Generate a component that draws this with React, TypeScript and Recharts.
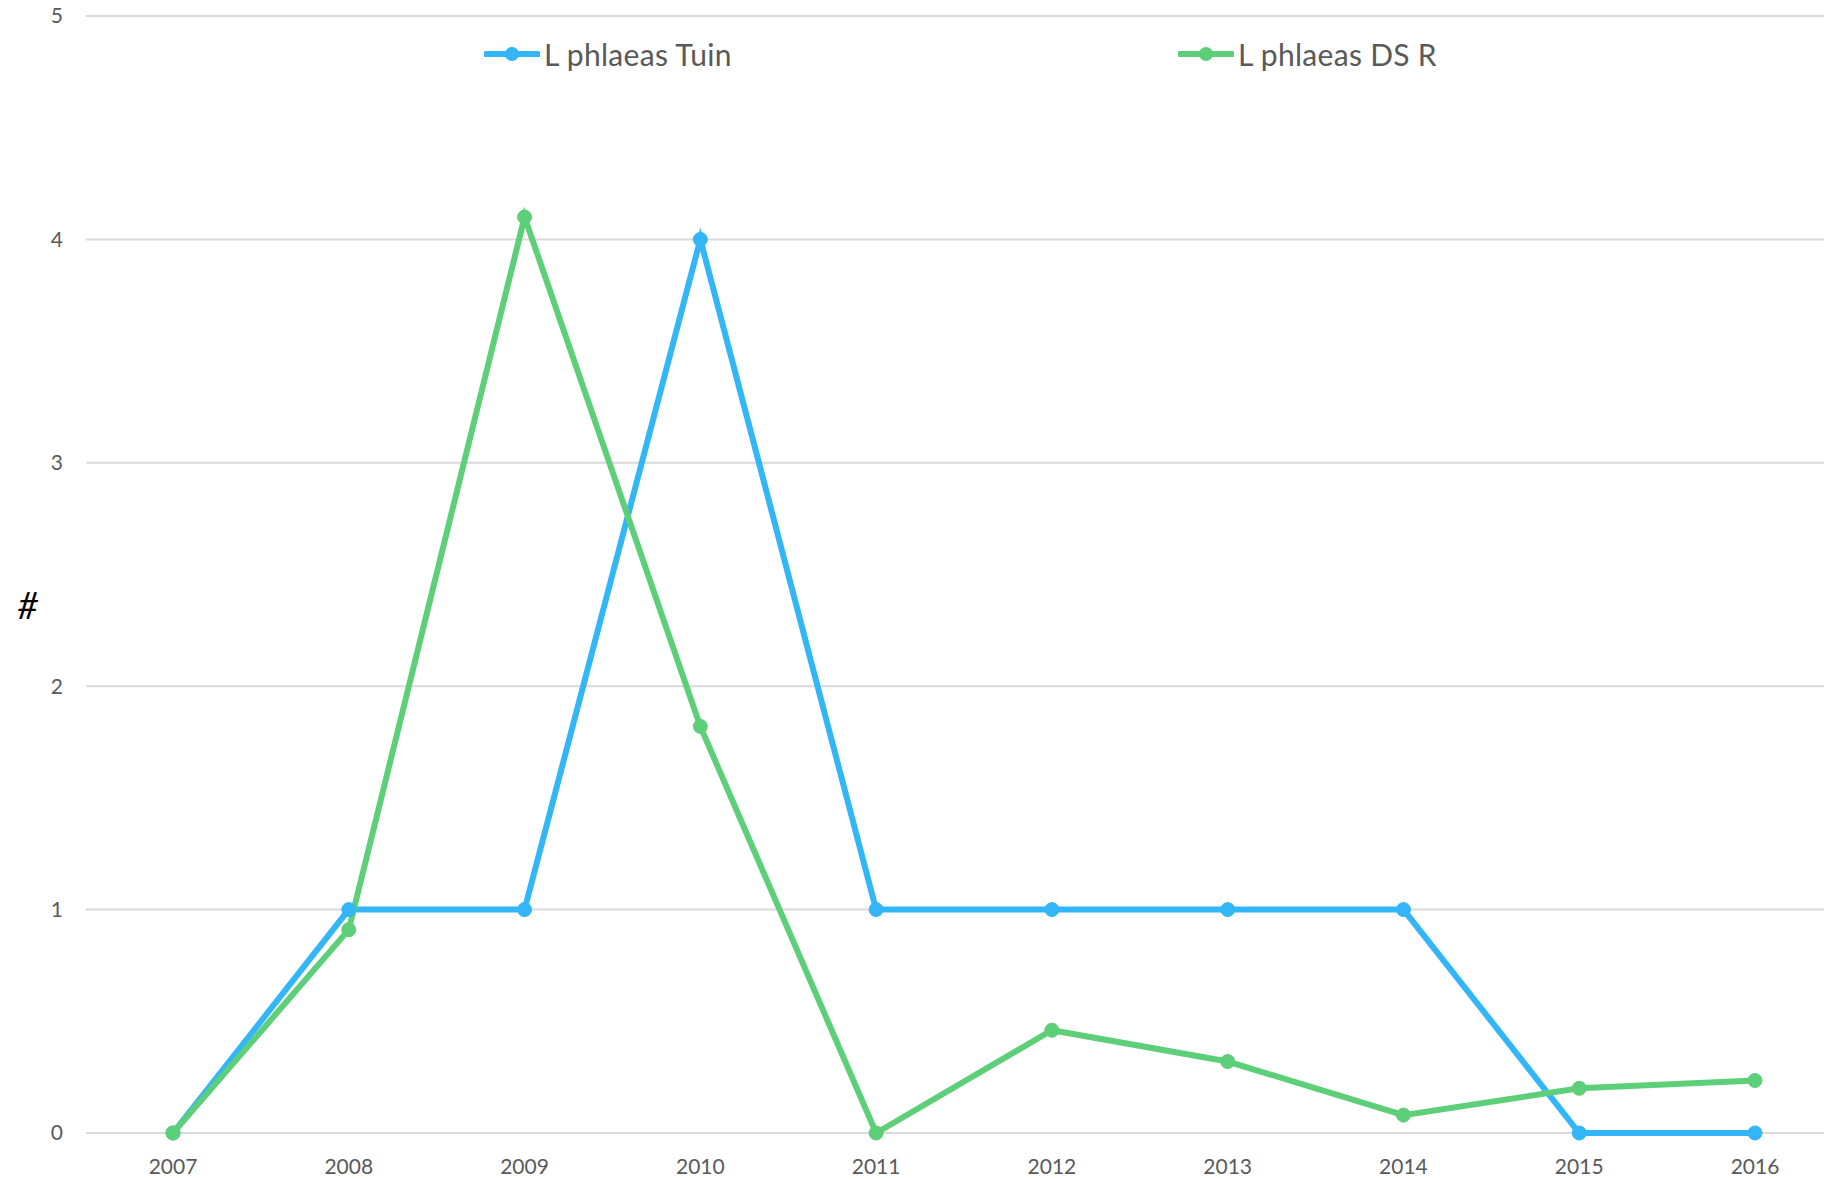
import { LineChart, Line, XAxis, YAxis, CartesianGrid, Legend } from 'recharts';

const years = ['2007', '2008', '2009', '2010', '2011', '2012', '2013', '2014', '2015', '2016'];
const tuin = [0, 1, 1, 4, 1, 1, 1, 1, 0, 0];
const dsr = [0, 0.91, 4.1, 1.82, 0, 0.46, 0.32, 0.08, 0.2, 0.235];
const yTicks = [0, 1, 2, 3, 4, 5];

const BLUE = '#33b6f7';
const GREEN = '#5dcf79';
const FONT = 'Lato, "Open Sans", sans-serif';

const data = years.map((y, i) => ({ year: y, tuin: tuin[i], dsr: dsr[i] }));

const legendItems = [
  { name: 'L phlaeas Tuin', color: BLUE, left: 484 },
  { name: 'L phlaeas DS R', color: GREEN, left: 1178 },
];

const LegendContent = () => (
  <div style={{ position: 'relative', width: 1824, height: 50 }}>
    {legendItems.map((it) => (
      <div
        key={it.name}
        style={{ position: 'absolute', left: it.left, top: 0, height: 50, display: 'flex', alignItems: 'center' }}
      >
        <svg width={56} height={20}>
          <line x1={2} y1={10} x2={54} y2={10} stroke={it.color} strokeWidth={6} strokeLinecap="round" />
          <circle cx={28} cy={10} r={7} fill={it.color} />
        </svg>
        <span style={{ marginLeft: 4, fontFamily: FONT, fontSize: 30, letterSpacing: 0.3, color: '#595959' }}>
          {it.name}
        </span>
      </div>
    ))}
  </div>
);

export default function App() {
  return (
    <div style={{ position: 'fixed', left: 0, top: 0, width: 1824, height: 1179, overflow: 'hidden', background: '#fff' }}>
      <LineChart width={1842} height={1179} data={data} margin={{ top: 16, right: 0, bottom: 0, left: 0 }}>
        <CartesianGrid vertical={false} stroke="#d9d9d9" strokeWidth={2} />
        <XAxis
          dataKey="year"
          axisLine={false}
          tickLine={false}
          height={46}
          tickMargin={20}
          padding={{ left: 87, right: 87 }}
          tick={{ fontSize: 21, fill: '#595959', fontFamily: FONT }}
        />
        <YAxis
          domain={[0, 5]}
          ticks={yTicks}
          width={86}
          axisLine={false}
          tickLine={false}
          tickMargin={17}
          tick={{ fontSize: 21, fill: '#595959', fontFamily: FONT }}
          label={{
            content: ({ viewBox }: any) => (
              <text
                x={viewBox.x + 28}
                y={viewBox.y + viewBox.height / 2 + 30}
                textAnchor="middle"
                dominantBaseline="central"
                fontSize={36}
                fontFamily={FONT}
                fontStyle="italic"
                fill="#000"
              >
                #
              </text>
            ),
          }}
        />
        <Legend
          layout="horizontal"
          verticalAlign="middle"
          align="center"
          wrapperStyle={{ top: 29, left: 0, width: 1824 }}
          content={<LegendContent />}
        />
        <Line
          type="linear"
          dataKey="tuin"
          name="L phlaeas Tuin"
          stroke={BLUE}
          strokeWidth={6}
          dot={{ r: 7, fill: BLUE, stroke: BLUE, strokeWidth: 1 }}
          activeDot={false}
          isAnimationActive={false}
        />
        <Line
          type="linear"
          dataKey="dsr"
          name="L phlaeas DS R"
          stroke={GREEN}
          strokeWidth={6}
          dot={{ r: 7, fill: GREEN, stroke: GREEN, strokeWidth: 1 }}
          activeDot={false}
          isAnimationActive={false}
        />
      </LineChart>
    </div>
  );
}
